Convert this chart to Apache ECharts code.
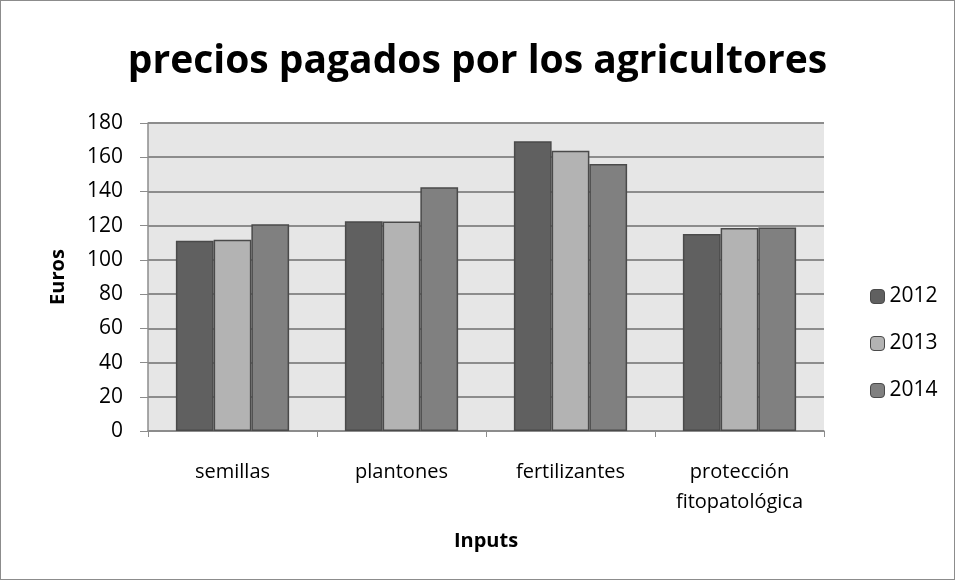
<!DOCTYPE html>
<html>
<head>
<meta charset="utf-8">
<script src="https://cdn.jsdelivr.net/npm/echarts@6/dist/echarts.min.js"></script>
<style>
  html, body { margin: 0; padding: 0; background: #fff; }
  #chart { width: 955px; height: 580px; box-sizing: border-box; border: 1px solid #8c8c8c; }
</style>
</head>
<body>
<div id="chart"></div>
<script>
// data
var categories = ['semillas', 'plantones', 'fertilizantes', 'protección\nfitopatológica'];
var years = ['2012', '2013', '2014'];
var v2012 = [111.2, 122.6, 169.3, 115.1];
var v2013 = [111.8, 122.5, 163.8, 118.6];
var v2014 = [120.9, 142.4, 156.0, 119.0];
var colors = ['#606060', '#b3b3b3', '#808080'];

var chart = echarts.init(document.getElementById('chart'));
var font = 'Open Sans';

function bar(name, data, color) {
  return {
    name: name,
    type: 'bar',
    data: data,
    barGap: '0%',
    barCategoryGap: '33%',
    itemStyle: { color: color, borderColor: '#4a4a4a', borderWidth: 1.5 }
  };
}

var option = {
  animation: false,
  textStyle: { fontFamily: font },
  title: {
    text: 'precios pagados por los agricultores',
    left: 'center',
    top: 36,
    textStyle: { fontFamily: font, fontSize: 39, fontWeight: 'bold', color: '#000' }
  },
  legend: {
    orient: 'vertical',
    left: 864,
    top: 280,
    itemWidth: 14,
    itemHeight: 14,
    itemGap: 26,
    data: years,
    textStyle: { fontFamily: font, fontSize: 21, color: '#000' },
    itemStyle: { borderColor: '#4a4a4a', borderWidth: 1 }
  },
  grid: { left: 147, top: 122, width: 676, height: 308 },
  xAxis: {
    type: 'category',
    data: categories,
    name: 'Inputs',
    nameLocation: 'middle',
    nameGap: 100,
    nameTextStyle: { fontFamily: font, fontSize: 20, fontWeight: 'bold', color: '#000' },
    axisLine: { lineStyle: { color: '#8c8c8c', width: 1.5 } },
    axisTick: { show: true, length: 6, lineStyle: { color: '#8c8c8c' } },
    axisLabel: { interval: 0, color: '#000', fontSize: 20, margin: 26, lineHeight: 30, fontFamily: font }
  },
  yAxis: {
    type: 'value',
    min: 0,
    max: 180,
    interval: 20,
    name: 'Euros',
    nameLocation: 'middle',
    nameGap: 80,
    nameTextStyle: { fontFamily: font, fontSize: 20, fontWeight: 'bold', color: '#000' },
    axisLine: { show: true, lineStyle: { color: '#8c8c8c', width: 1.5 } },
    axisTick: { show: true, length: 8, lineStyle: { color: '#8c8c8c' } },
    axisLabel: { color: '#000', fontSize: 21, margin: 25, fontFamily: font },
    splitLine: { lineStyle: { color: '#8c8c8c', width: 2 } },
    splitArea: { show: true, areaStyle: { color: ['#e6e6e6', '#e6e6e6'] } }
  },
  series: [
    bar('2012', v2012, colors[0]),
    bar('2013', v2013, colors[1]),
    bar('2014', v2014, colors[2])
  ]
};

chart.setOption(option);
</script>
</body>
</html>
